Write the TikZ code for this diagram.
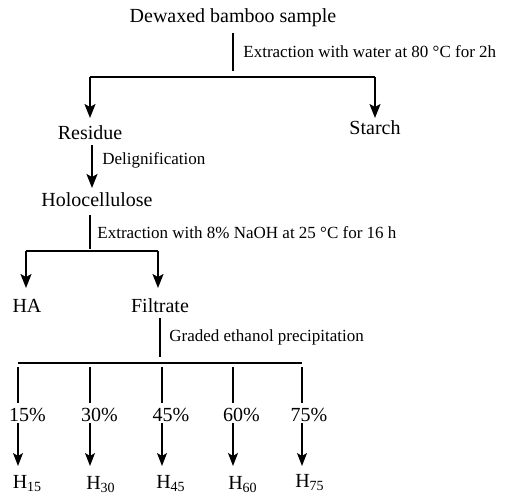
\documentclass[tikz,border=0pt]{standalone}
\usepackage{fontspec}
\setmainfont{Liberation Serif}
\usetikzlibrary{arrows.meta}
\tikzset{
  stage/.style={inner sep=0pt,font=\fontsize{10}{12}\selectfont},
  note/.style={inner sep=0pt,anchor=west,font=\fontsize{8.5}{10}\selectfont},
  ln/.style={line width=0.9pt},
  thinln/.style={line width=0.6pt},
  arr/.style={line width=0.9pt,-{Stealth[length=7pt,width=5.5pt,inset=1.5pt]}},
  thinarr/.style={line width=0.6pt,-{Stealth[length=6.5pt,width=5pt,inset=1.5pt]}}
}
\begin{document}
\begin{tikzpicture}[x=0.5pt,y=-0.5pt]
\useasboundingbox (0,0) rectangle (505,494);
\node[stage] (dew) at (233,18) {Dewaxed bamboo sample};
\node[stage] (res) at (90,133) {Residue};
\node[stage] (sta) at (375,128) {Starch};
\node[stage] (holo) at (97,200) {Holocellulose};
\node[stage] (ha) at (27,306) {HA};
\node[stage] (fil) at (160,306) {Filtrate};
\coordinate (w1) at (233,33);
\coordinate (w2) at (233,71);
\coordinate (wl) at (90,77);
\coordinate (wr) at (375,77);
\coordinate (rt) at (90,118);
\coordinate (st) at (375,118);
\draw[ln] (w1) -- (w2);
\node[note] (wnote) at (243,52) {Extraction with water at 80 °C for 2h};
\draw[ln] (wl) -- (wr);
\draw[arr] (wl) -- (rt);
\draw[arr] (wr) -- (st);
\coordinate (d1) at (92,145);
\coordinate (d2) at (92,188);
\draw[arr] (d1) -- (d2);
\node[note] (dnote) at (102,160) {Delignification};
\coordinate (n1) at (90,215);
\coordinate (n2) at (90,249);
\coordinate (nl) at (26,251);
\coordinate (nr) at (158,251);
\coordinate (hat) at (26,288);
\coordinate (fit) at (158,288);
\draw[ln] (n1) -- (n2);
\node[note] (nnote) at (97,233) {Extraction with 8\% NaOH at 25 °C for 16 h};
\draw[ln] (nl) -- (nr);
\draw[arr] (nl) -- (hat);
\draw[arr] (nr) -- (fit);
\coordinate (g1) at (160,318);
\coordinate (g2) at (160,357);
\draw[thinln] (g1) -- (g2);
\node[note] (gnote) at (169,337) {Graded ethanol precipitation};
\draw[thinln] (18,363) -- (302,363);
\foreach \n/\x/\tx/\hx/\hy in {15/18/27.5/27.5/475,30/90/99.5/101/476,45/162/171/171/475,60/233/241.5/243/476,75/302/309/310/474}{
  \coordinate (c\n) at (\x,367);
  \coordinate (e\n) at (\x,403);
  \coordinate (a\n) at (\x,423);
  \coordinate (b\n) at (\x,466);
  \draw[ln] (c\n) -- (e\n);
  \node[stage] (p\n) at (\tx,415) {\n\%};
  \node[stage,anchor=north] (h\n) at (\hx,\hy) {H\textsubscript{\n}};
  \draw[thinarr] (a\n) -- (b\n);
}
\end{tikzpicture}
\end{document}
